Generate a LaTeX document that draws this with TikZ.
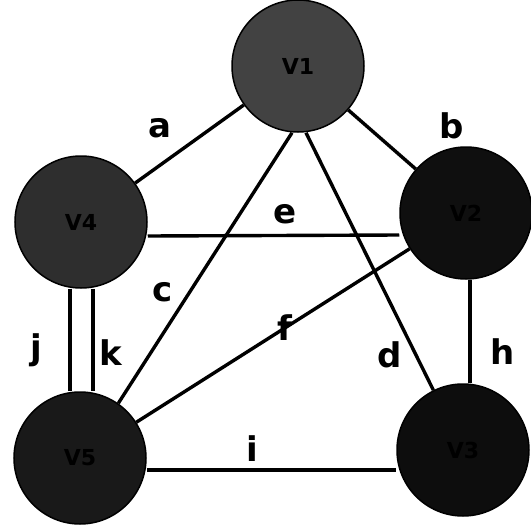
\documentclass[tikz,border=0pt]{standalone}
\usepackage{fontspec}
\setsansfont{DejaVu Sans}
\usetikzlibrary{positioning}
\tikzset{
  vtx/.style={circle,draw=black,line width=1.5pt,minimum size=132pt,inner sep=0pt,
    font=\sffamily\bfseries\fontsize{22}{22}\selectfont,text=black},
  edge/.style={line width=3.4pt,black},
  elab/.style={font=\sffamily\bfseries\fontsize{34}{34}\selectfont,inner sep=0pt}
}
\begin{document}
\begin{tikzpicture}[x=1pt,y=-1pt]
  \useasboundingbox (0,0) rectangle (531,525);
  % vertices
  \node[vtx,fill=black!74] (v1) at (298,66) {V1};
  \node[vtx,fill=black!82] (v4) at (81,222) {V4};
  \node[vtx,fill=black!94] (v2) at (466,213) {V2};
  \node[vtx,fill=black!90] (v5) at (80,458) {V5};
  \node[vtx,fill=black!95] (v3) at (463,450) {V3};
  % edges
  \draw[edge] (v1) -- (v4);
  \draw[edge] (v1) -- (v2);
  \draw[edge] ([yshift=-14pt]v4.east) -- ([yshift=-22pt]v2.west);
  \draw[edge] ([xshift=-6pt]v1.south) -- (v5.55);
  \draw[edge] ([xshift=8pt]v1.south) -- (v3);
  \draw[edge] (v2) -- (v5);
  \draw[edge] ([xshift=4pt]v2.south) -- ([xshift=7pt]v3.north);
  \draw[edge] ([xshift=-11pt]v4.south) -- ([xshift=-10pt]v5.north);
  \draw[edge] ([xshift=12pt]v4.south) -- ([xshift=13pt]v5.north);
  \draw[edge] ([yshift=-12pt]v5.east) -- ([yshift=-20pt]v3.west);
  % edge labels
  \foreach \n/\t/\x/\y in {la/a/160/128, lb/b/452/126, le/e/285/214, lc/c/163/292,
      lf/f/285/328, ld/d/390/355, lh/h/503/352, lj/j/36/350, lk/k/111/353, li/i/252/449}
    \node[elab] (\n) at (\x,\y) {\t};
\end{tikzpicture}
\end{document}
